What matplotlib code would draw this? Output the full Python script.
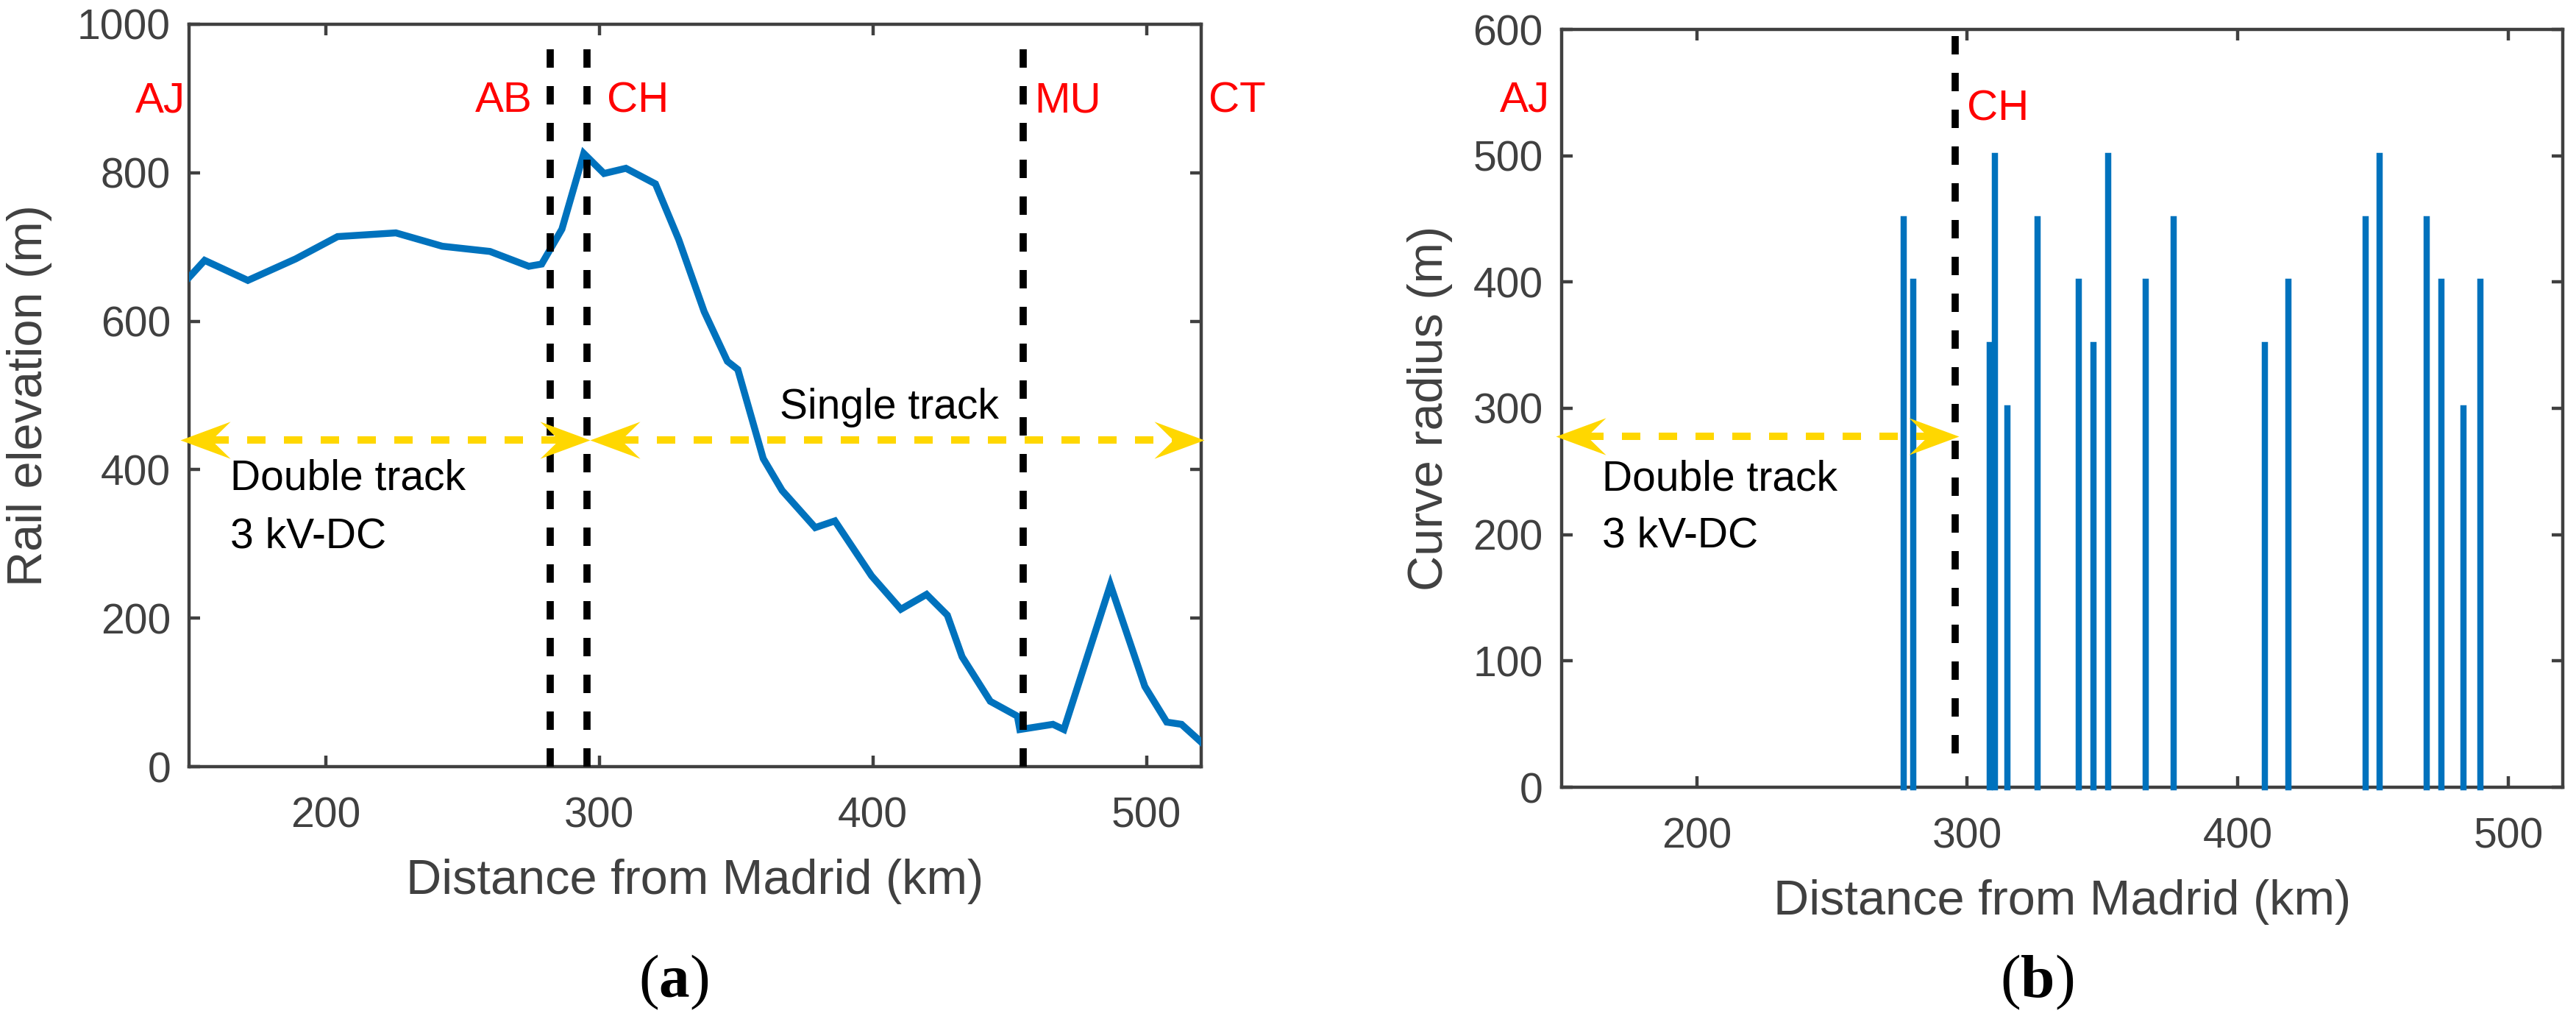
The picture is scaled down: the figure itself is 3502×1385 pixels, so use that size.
# 철도 노선: (a) 고도 프로파일, (b) 곡선 반경
import matplotlib
matplotlib.use('Agg')
import matplotlib.pyplot as plt
from matplotlib.path import Path

plt.rcParams['font.family'] = ['Liberation Sans', 'DejaVu Sans']
plt.rcParams['lines.scale_dashes'] = False
plt.rcParams['mathtext.fontset'] = 'custom'
plt.rcParams['mathtext.rm'] = 'Liberation Serif'
plt.rcParams['mathtext.bf'] = 'Liberation Serif:bold'

# [1] data
elev_km = [150, 155.7, 171.5, 189, 204.3, 225.6, 242.6, 260, 274.2, 278.9, 286.3,
           294.3, 301.7, 309.7, 320.5, 329, 338.3, 346.8, 350.6, 359.9, 366.8,
           378.9, 386.1, 399.5, 410.2, 419.6, 427.2, 432.6, 442.9, 452.8, 453.7,
           465.8, 469.8, 486.8, 499.4, 507.4, 512.8, 520]
elev_m = [659, 682, 655, 684, 714, 719, 701, 694, 674, 677, 724,
          826, 799, 806, 785, 710, 613, 546, 535, 415, 372,
          322, 331, 257, 212, 232, 204, 148, 88, 68, 50,
          57, 50, 245, 108, 60, 57, 33]

curve_km = [276.6, 279.9, 308.3, 310.3, 314.8, 326.1, 341.2, 346.5, 352.0, 366.0,
            376.4, 410.1, 418.8, 447.2, 452.3, 469.8, 475.1, 483.4, 489.7]
curve_radius = [450, 400, 350, 500, 300, 450, 400, 350, 500, 400,
                450, 350, 400, 450, 500, 450, 400, 300, 400]

boundary_a = [282.1, 295.5, 454.8]   # AB, CH, MU
boundary_b = [295.5]                 # CH

GRAY = '#404040'
BLUE = '#0072BD'
GOLD = '#FFD700'

# [2] figure / axes
W, H = 3502, 1385
fig = plt.figure(figsize=(W / 100, H / 100), dpi=100)
ax1 = fig.add_axes([257 / W, 343 / H, 1376 / W, 1009 / H])
ax2 = fig.add_axes([2122.7 / W, 315 / H, 1361 / W, 1030 / H])


def style(ax):
    for s in ax.spines.values():
        s.set_color(GRAY)
        s.set_linewidth(3.2)
    ax.tick_params(direction='in', length=11, width=3.2, colors=GRAY,
                   labelsize=41, top=True, right=True)
    ax.tick_params(axis='x', pad=29)
    ax.tick_params(axis='y', pad=18)


# arrow head (vback2 like), tip at origin
head_r = Path([(0, 0), (-1, 0.37), (-0.62, 0), (-1, -0.37), (0, 0)],
              [Path.MOVETO, Path.LINETO, Path.LINETO, Path.LINETO, Path.CLOSEPOLY])
head_l = Path([(0, 0), (1, 0.37), (0.62, 0), (1, -0.37), (0, 0)],
              [Path.MOVETO, Path.LINETO, Path.LINETO, Path.LINETO, Path.CLOSEPOLY])


def double_arrow(ax, x0, x1, y):
    ax.plot([x0 + 11, x1 - 11], [y, y], color=GOLD, lw=7.2, dashes=(18, 18),
            clip_on=False, zorder=4)
    ax.plot([x0], [y], marker=head_l, ms=98, color=GOLD, mew=0, clip_on=False, zorder=5)
    ax.plot([x1], [y], marker=head_r, ms=98, color=GOLD, mew=0, clip_on=False, zorder=5)


# [3] (a) elevation
ax1.plot(elev_km, elev_m, color=BLUE, lw=6.8, solid_joinstyle='miter', zorder=3)
for xb in boundary_a:
    ax1.plot([xb, xb], [0, 985], color='black', lw=7, dashes=(18, 18), zorder=3)
double_arrow(ax1, 146.8, 296.5, 440)
double_arrow(ax1, 296.5, 521, 440)
ax1.set_xlim(150, 520)
ax1.set_ylim(0, 1000)
ax1.set_xticks([200, 300, 400, 500])
ax1.set_yticks([0, 200, 400, 600, 800, 1000])
style(ax1)
ax1.set_xlabel('Distance from Madrid (km)', fontsize=48, color=GRAY)
ax1.set_ylabel('Rail elevation (m)', fontsize=48, color=GRAY)
ax1.xaxis.set_label_coords(0.5, -0.1239)
ax1.yaxis.set_label_coords(-0.1352, 0.5)

red = dict(color='red', fontsize=42, va='baseline')
ax1.text(148.7, 882, 'AJ', ha='right', **red)
ax1.text(275.6, 882, 'AB', ha='right', **red)
ax1.text(302.7, 882, 'CH', ha='left', **red)
ax1.text(459.1, 882, 'MU', ha='left', **red)
ax1.text(522.6, 882, 'CT', ha='left', **red)
ax1.text(366, 469, 'Single track', fontsize=41, va='baseline')
ax1.text(165, 373, 'Double track', fontsize=41, va='baseline')
ax1.text(165, 295, '3 kV-DC', fontsize=41, va='baseline')

# [4] (b) curve radius
ax2.vlines(curve_km, 0, curve_radius, color=BLUE, lw=6.1, capstyle='projecting',
           clip_on=False, zorder=3)
for xb in boundary_b:
    ax2.plot([xb, xb], [595, 25], color='black', lw=7, dashes=(18, 18), zorder=3)
double_arrow(ax2, 147.9, 297, 278)
ax2.set_xlim(150, 520)
ax2.set_ylim(0, 600)
ax2.set_xticks([200, 300, 400, 500])
ax2.set_yticks([0, 100, 200, 300, 400, 500, 600])
style(ax2)
ax2.set_xlabel('Distance from Madrid (km)', fontsize=48, color=GRAY)
ax2.set_ylabel('Curve radius (m)', fontsize=48, color=GRAY)
ax2.xaxis.set_label_coords(0.5, -0.1214)
ax2.yaxis.set_label_coords(-0.1085, 0.5)

ax2.text(145.7, 535, 'AJ', ha='right', **red)
ax2.text(299.9, 528, 'CH', ha='left', **red)
ax2.text(165, 235, 'Double track', fontsize=41, va='baseline')
ax2.text(165, 190, '3 kV-DC', fontsize=41, va='baseline')

# [5] sub captions
fig.text(916 / W, 1 - 1335 / H, r'$\mathrm{(}\mathbf{a}\mathrm{)}$', fontsize=60,
         ha='center', va='center')
fig.text(2769 / W, 1 - 1335 / H, r'$\mathrm{(}\mathbf{b}\mathrm{)}$', fontsize=60,
         ha='center', va='center')

fig.savefig('out.png', dpi=100)
